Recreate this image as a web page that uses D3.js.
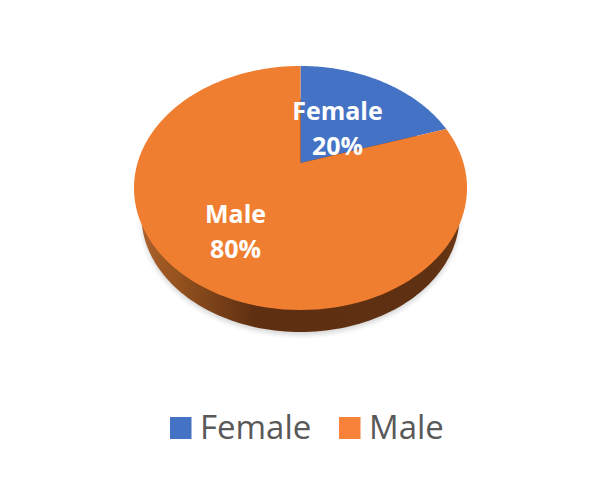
<!DOCTYPE html>
<html><head><meta charset="utf-8">
<script src="https://cdn.jsdelivr.net/npm/d3@7"></script>
<style>html,body{margin:0;padding:0;background:#fff}svg{display:block}text{font-family:"Open Sans","Noto Sans",sans-serif}</style>
</head><body><svg id="c" width="600" height="500"></svg>
<script>
const categories = ["Female", "Male"];
const values = [20, 80];
const colors = ["#4472C4", "#F07E31"];
const legendColors = ["#4472C4", "#F9823A"];

const svg = d3.select("#c");
const color = d3.scaleOrdinal(categories, colors);
const pie = d3.pie().sort(null).value((d, i) => values[i]);
const arcs = pie(categories);

// Tilted-disc perspective: maps unit-circle coords (u right, v up) to the page
const apexX = 300.5, apexY = 163, persp = 0.2049, yGain = -83.5, xGain = 163;
const project = (u, v) => {
  const w = persp * v + 1;
  return [apexX + xGain * u / w, (yGain * v + apexY) / w];
};
const rim = a => project(Math.sin(a), Math.cos(a));
const line = d3.line();
const sweep = (a0, a1, n = 120) => d3.range(n + 1).map(i => rim(a0 + (a1 - a0) * i / n));

const defs = svg.append("defs");
const grad = defs.append("linearGradient").attr("id", "side")
  .attr("gradientUnits", "userSpaceOnUse").attr("x1", 134).attr("x2", 467).attr("y1", 0).attr("y2", 0);
[[0, "#B06330"], [0.12, "#97541F"], [0.36, "#5F2F12"], [0.9, "#5F3011"], [1, "#6E3A16"]]
  .forEach(([o, c]) => grad.append("stop").attr("offset", o).attr("stop-color", c));
defs.append("filter").attr("id", "soft").attr("x", "-10%").attr("y", "-10%").attr("width", "120%").attr("height", "120%")
  .append("feGaussianBlur").attr("stdDeviation", 2.5);

// Side wall: the rim repeated lower and slightly narrower
const depthScale = 0.955, depthCy = 215.5, topCy = 188;
const lower = ([x, y]) => [apexX + (x - apexX) * depthScale, depthCy + (y - topCy) * depthScale];
const wall = sweep(0, 2 * Math.PI, 240).map(lower);
svg.append("path").attr("d", line(wall) + "Z").attr("transform", "translate(0,3)")
  .attr("fill", "#000").attr("opacity", 0.16).attr("filter", "url(#soft)");
svg.append("path").attr("d", line(wall) + "Z").attr("fill", "url(#side)");

// Top face
svg.append("g").selectAll("path").data(arcs).join("path")
  .attr("d", d => line([project(0, 0), ...sweep(d.startAngle, d.endAngle)]) + "Z")
  .attr("fill", d => color(d.data));

// Data labels
const labelPos = [[337.5, 120, 155], [235.5, 223, 258]];
const labels = svg.append("g").attr("fill", "#fff").attr("font-size", 25).attr("font-weight", 700).attr("text-anchor", "middle");
categories.forEach((c, i) => {
  labels.append("text").attr("x", labelPos[i][0]).attr("y", labelPos[i][1]).text(c);
  labels.append("text").attr("x", labelPos[i][0]).attr("y", labelPos[i][2]).text(values[i] + "%");
});

// Legend
const legendX = d3.scaleOrdinal(categories, [170, 339]);
const lg = svg.append("g").selectAll("g").data(categories).join("g")
  .attr("transform", d => `translate(${legendX(d)},417)`);
lg.append("rect").attr("width", 21.5).attr("height", 22).attr("fill", (d, i) => legendColors[i]);
lg.append("text").attr("x", 30).attr("y", 21.5).attr("font-size", 33).attr("fill", "#595959").text(d => d);
</script></body></html>
